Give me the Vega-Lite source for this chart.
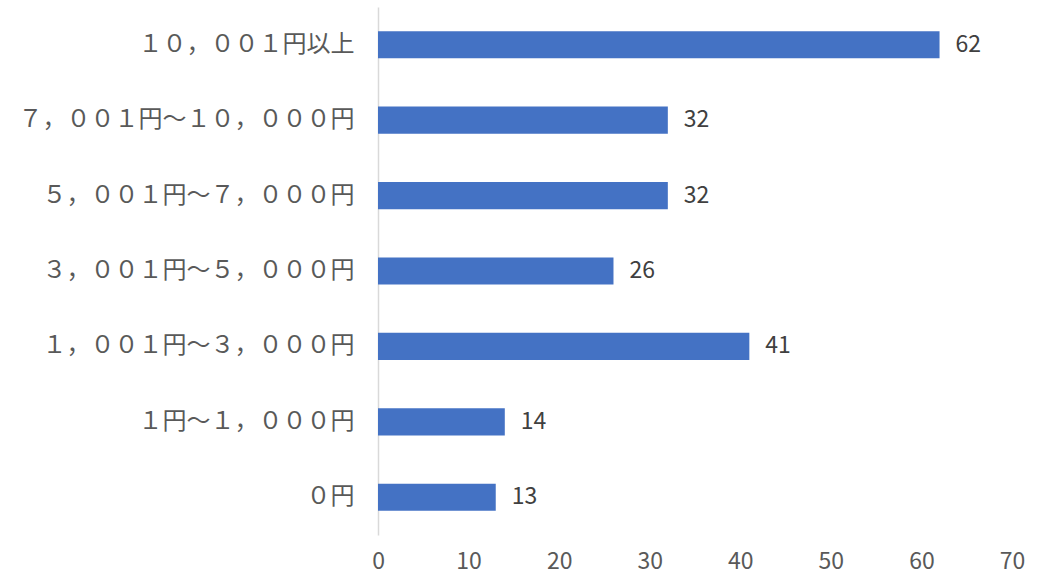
{
  "$schema": "https://vega.github.io/schema/vega-lite/v6.json",
  "autosize": {"type": "none"},
  "padding": {"left": 378, "top": 7, "right": 44, "bottom": 44},
  "width": 634,
  "height": 528,
  "background": "white",
  "config": {"view": {"stroke": null}, "font": "Noto Sans CJK JP"},
  "data": {"values": [
    {"category": "１０，００１円以上", "value": 62},
    {"category": "７，００１円～１０，０００円", "value": 32},
    {"category": "５，００１円～７，０００円", "value": 32},
    {"category": "３，００１円～５，０００円", "value": 26},
    {"category": "１，００１円～３，０００円", "value": 41},
    {"category": "１円～１，０００円", "value": 14},
    {"category": "０円", "value": 13}
  ]},
  "encoding": {
    "y": {"field": "category", "type": "nominal", "sort": null,
      "scale": {"paddingInner": 0.64, "paddingOuter": 0.32},
      "axis": {"title": null, "ticks": false, "domainColor": "#d9d9d9", "domainWidth": 1.5,
        "labelFontSize": 24, "labelColor": "#595959", "labelPadding": 24, "labelFont": "Noto Sans CJK JP", "labelLimit": 400}},
    "x": {"field": "value", "type": "quantitative",
      "scale": {"domain": [0, 70], "nice": false},
      "axis": {"title": null, "values": [0,10,20,30,40,50,60,70], "grid": false, "domain": false, "ticks": false, "labelFlush": false,
        "labelFontSize": 23, "labelColor": "#595959", "labelPadding": 15, "labelFont": "Noto Sans CJK JP"}}
  },
  "layer": [
    {"mark": {"type": "bar", "color": "#4472c4"}},
    {"mark": {"type": "text", "align": "left", "baseline": "middle", "dx": 16, "fontSize": 23, "color": "#404040", "font": "Noto Sans CJK JP"},
     "encoding": {"text": {"field": "value", "type": "quantitative"}}}
  ]
}
